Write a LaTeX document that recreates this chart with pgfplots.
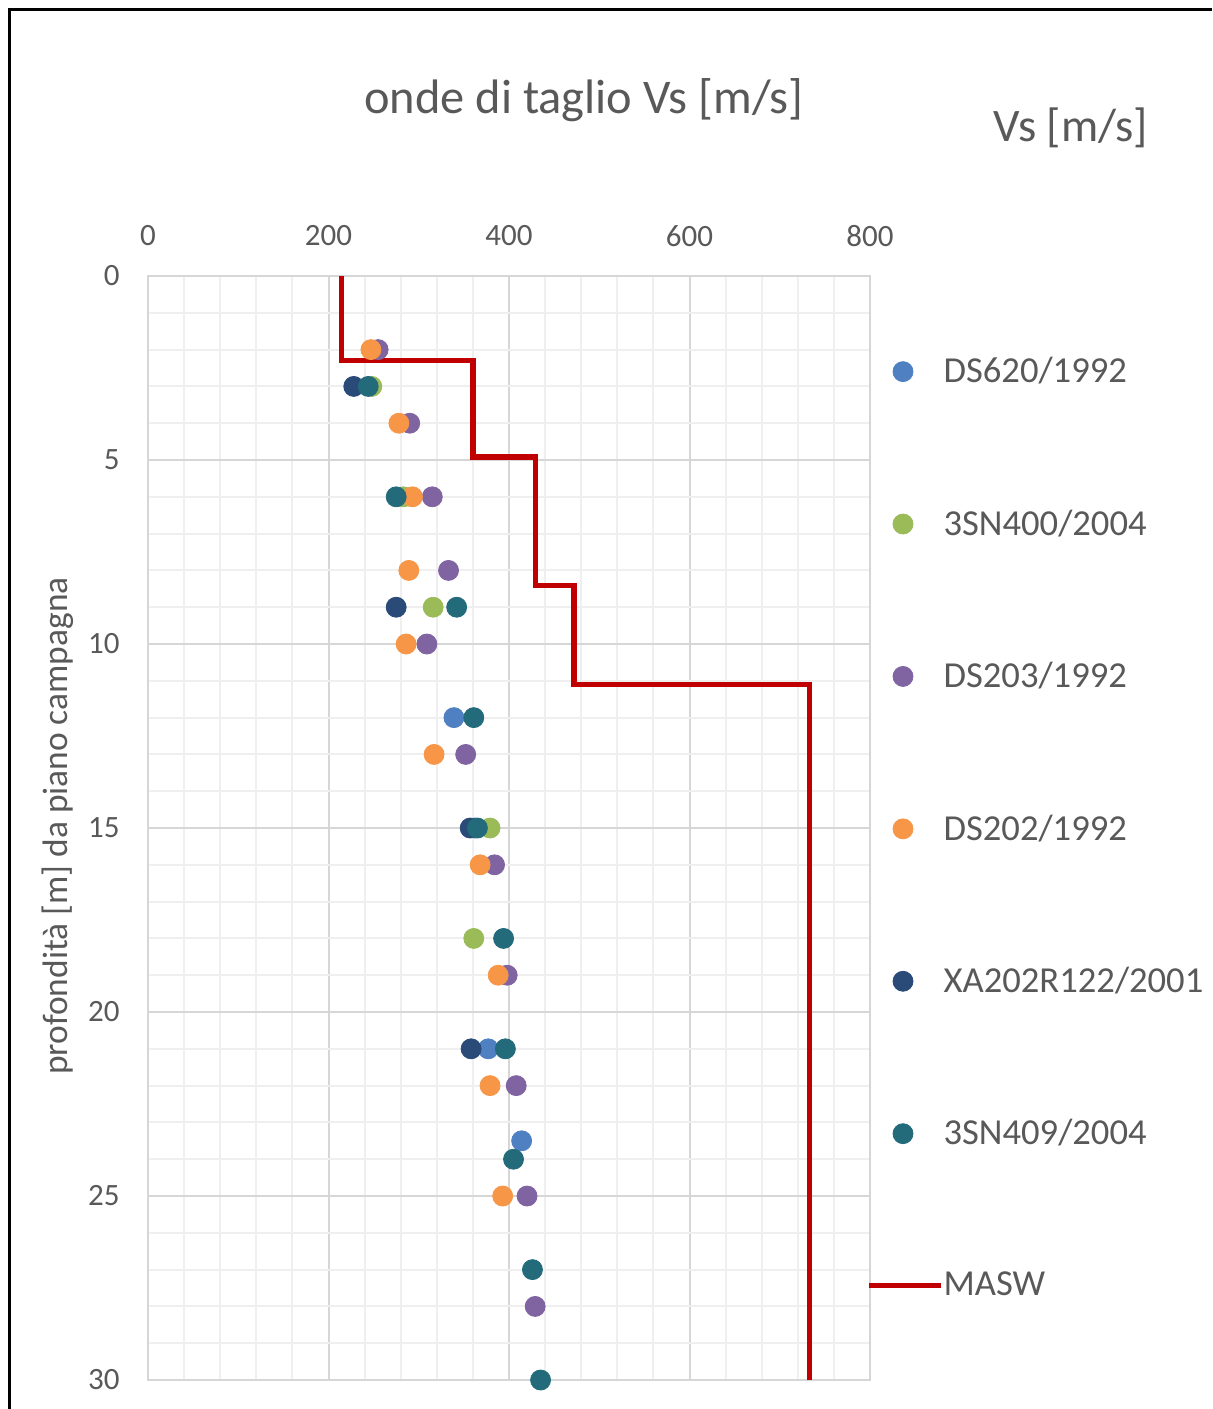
\documentclass[border=0pt]{standalone}
\usepackage{fontspec}
\setmainfont{Carlito}
\usepackage{pgfplots}
\pgfplotsset{compat=1.18}
\definecolor{cblue}{HTML}{4E80C2}
\definecolor{cgreen}{HTML}{9BBB59}
\definecolor{cpurple}{HTML}{8064A2}
\definecolor{corange}{HTML}{F79646}
\definecolor{cnavy}{HTML}{2A4A78}
\definecolor{cteal}{HTML}{236A7A}
\definecolor{cred}{HTML}{C00000}
\definecolor{textgray}{HTML}{595959}
\definecolor{gridmajor}{HTML}{D6D6D6}
\definecolor{gridminor}{HTML}{EFEFEF}
\pgfplotsset{
  mymarklegend/.style={legend image code/.code={\draw[mark repeat=2,mark phase=2,##1] plot coordinates {(0pt,0pt) (17pt,0pt) (36pt,0pt)};}},
  mylinelegend/.style={legend image code/.code={\draw[##1] (0pt,0pt) -- (36pt,0pt);}},
}
\begin{document}
\begin{tikzpicture}
\useasboundingbox[fill=white] (0pt,0pt) rectangle (606pt,-704.5pt);
\draw[line width=1.5pt, black] (4.5pt,-704.5pt) -- (4.5pt,-4.5pt) -- (606pt,-4.5pt);
\node[text=textgray, font=\fontsize{24.2}{28}\selectfont] at (292pt,-50pt) {onde di taglio Vs [m/s]};
\node[text=textgray, font=\fontsize{23.3}{28}\selectfont] at (535.5pt,-64pt) {Vs [m/s]};
\node[text=textgray, font=\fontsize{17.7}{21}\selectfont, rotate=90] at (29pt,-413pt) {profondità [m] da piano campagna};
\begin{axis}[
  at={(74pt,-138pt)}, anchor=north west,
  width=361pt, height=552pt, scale only axis,
  xmin=0, xmax=800, ymin=0, ymax=30, y dir=reverse,
  xtick={0,200,...,800}, ytick={0,5,...,30},
  minor x tick num=4, minor y tick num=4,
  grid=both,
  major grid style={line width=1pt, color=gridmajor},
  minor grid style={line width=1pt, color=gridminor},
  axis line style={line width=1pt, color=gridmajor},
  major tick length=0pt, minor tick length=0pt,
  xticklabel pos=top,
  /pgf/number format/assume math mode=true,
  tick label style={font=\fontsize{15.5}{18}\selectfont, text=textgray},
  xticklabel style={anchor=center, inner sep=0pt, yshift=20pt},
  yticklabel style={anchor=east, inner sep=0pt, xshift=-14pt},
  clip=false,
  legend style={draw=none, fill=none, font=\fontsize{18.3}{22}\selectfont, text=textgray,
    at={(1,0.5)}, anchor=west, xshift=-5pt, row sep=62pt,
    nodes={inner sep=0pt, anchor=west},
    /tikz/every even column/.append style={column sep=2.5pt}},
  legend cell align=left,
  mymarklegend,
]
\addplot[color=cblue, only marks, mark=*, mark size=5pt] coordinates {(339,12) (362,15) (377,21) (414,23.5)};
\addlegendentry{DS620/1992}
\addplot[color=cgreen, only marks, mark=*, mark size=5pt] coordinates {(248,3) (283,6) (316,9) (379,15) (361,18)};
\addlegendentry{3SN400/2004}
\addplot[color=cpurple, only marks, mark=*, mark size=5pt] coordinates {(255,2) (290,4) (315,6) (333,8) (309,10) (352,13) (384,16) (398,19) (408,22) (420,25) (429,28)};
\addlegendentry{DS203/1992}
\addplot[color=corange, only marks, mark=*, mark size=5pt] coordinates {(247,2) (278,4) (293,6) (289,8) (286,10) (317,13) (368,16) (388,19) (379,22) (393,25)};
\addlegendentry{DS202/1992}
\addplot[color=cnavy, only marks, mark=*, mark size=5pt] coordinates {(228,3) (275,9) (357,15) (358,21)};
\addlegendentry{XA202R122/2001}
\addplot[color=cteal, only marks, mark=*, mark size=5pt] coordinates {(244,3) (275,6) (342,9) (361,12) (365,15) (394,18) (396,21) (405,24) (426,27) (435,30)};
\addlegendentry{3SN409/2004}
\addplot[color=cred, line width=2.6pt, mark=none, sharp plot, mylinelegend]
  coordinates {(214,0) (214,2.3) (360,2.3) (360,4.92) (429,4.92) (429,8.4) (472,8.4) (472,11.1) (733,11.1) (733,30)};
\addlegendentry{MASW}
\end{axis}
\end{tikzpicture}
\end{document}
